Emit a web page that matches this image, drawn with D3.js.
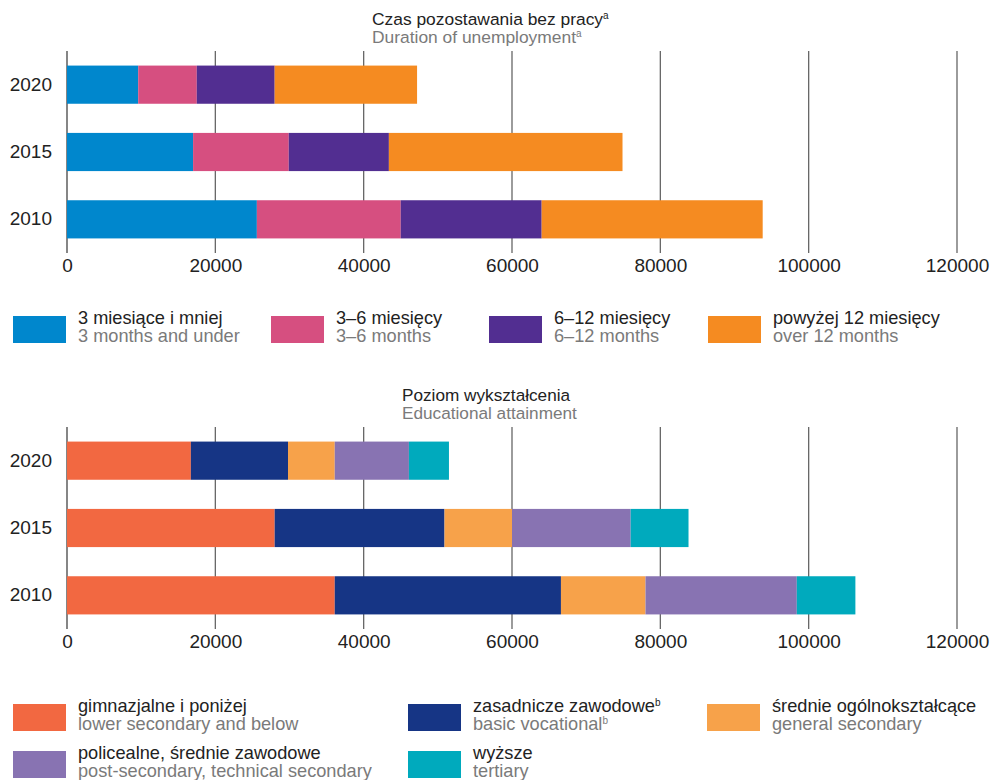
<!DOCTYPE html>
<html lang="pl">
<head>
<meta charset="UTF-8">
<script src="https://cdn.jsdelivr.net/npm/d3@7"></script>
<title>Bezrobotni</title>
<style>
  body { margin: 0; background: #fff; }
  svg text { font-family: "Liberation Sans", Arial, sans-serif; }
</style>
</head>
<body>
<div id="wykres"></div>
<script>
// lata
var lata = ['2020', '2015', '2010']

// czas pozostawania bez pracy
var do3mies = [9600, 17000, 25600]
var od3do6 = [7900, 12900, 19400]
var od6do12 = [10500, 13500, 19000]
var ponad12 = [19200, 31500, 29800]

// poziom wykształcenia
var gimnazjalne = [16700, 28000, 36100]
var zasadnicze = [13100, 22900, 30500]
var ogolnoksztalcace = [6300, 9100, 11400]
var policealne = [10000, 16000, 20400]
var wyzsze = [5400, 7800, 7900]

var ticksX = [0, 20000, 40000, 60000, 80000, 100000, 120000]

var svg = d3.select('#wykres').append('svg')
  .attr('width', 991)
  .attr('height', 780)

var x = d3.scaleLinear().domain([0, 120000]).range([67, 957])

// dwie linie (pl / en) w jednym elemencie text
function dwieLinie(sel, xx, y1, y2, pl, en, sup, size) {
  var t = sel.append('text').style('font-size', size)
  t.append('tspan').attr('x', xx).attr('y', y1).attr('fill', '#222').text(pl)
  if (sup) t.append('tspan').attr('dy', -6).attr('fill', '#222').style('font-size', '10px').text(sup)
  t.append('tspan').attr('x', xx).attr('y', y2).attr('fill', '#7a7a7a').text(en)
  if (sup) t.append('tspan').attr('dy', -6).attr('fill', '#7a7a7a').style('font-size', '10px').text(sup)
  return t
}

function panel(cfg) {
  var g = svg.append('g').attr('transform', 'translate(0,' + cfg.top + ')')

  // tytuly
  dwieLinie(g, cfg.titleX, -26, -8, cfg.tytulPl, cfg.tytulEn, cfg.sup, cfg.titleSize)

  var y = d3.scaleBand().domain(lata).range([0, 202]).paddingInner(0.433).paddingOuter(0.2165)

  // linie siatki
  g.selectAll('line.grid').data(ticksX).enter().append('line')
    .attr('class', 'grid')
    .attr('x1', d => x(d)).attr('x2', d => x(d))
    .attr('y1', 0).attr('y2', 202)
    .attr('stroke', (d) => d === 0 ? '#444' : '#666')
    .attr('stroke-width', 1.3)

  var dane = lata.map((rok, i) => {
    var o = { rok: rok }
    cfg.serie.forEach((s, k) => { o['s' + k] = s[i] })
    return o
  })
  var klucze = cfg.serie.map((s, k) => 's' + k)
  var stos = d3.stack().keys(klucze)(dane)

  g.selectAll('g.seria').data(stos).enter().append('g')
    .attr('fill', (d, k) => cfg.kolory[k])
    .selectAll('rect').data(d => d).enter().append('rect')
    .attr('x', d => x(d[0]))
    .attr('width', d => x(d[1]) - x(d[0]))
    .attr('y', d => y(d.data.rok))
    .attr('height', y.bandwidth())

  // osie
  var osY = d3.axisLeft(y).tickSize(0).tickPadding(15)
  g.append('g').attr('transform', 'translate(67,0)').call(osY)
    .call(a => a.select('.domain').remove())
    .selectAll('text').attr('fill', '#222').style('font-size', '19px')

  var osX = d3.axisBottom(x).tickValues(ticksX).tickSize(0).tickPadding(6).tickFormat(d3.format('d'))
  g.append('g').attr('transform', 'translate(0,202)').call(osX)
    .call(a => a.select('.domain').remove())
    .selectAll('text').attr('fill', '#222').style('font-size', '19px')

  // legenda
  var leg = svg.append('g')
  cfg.legenda.forEach((l, k) => {
    var lg = leg.append('g').attr('transform', 'translate(' + l[2] + ',' + l[3] + ')')
    lg.append('rect').attr('x', 0).attr('y', 0).attr('width', 53).attr('height', 27).attr('fill', cfg.kolory[k])
    dwieLinie(lg, 65, 8, 26, l[0], l[1], l[4], '18.2px')
  })
}

panel({
  top: 51,
  titleX: 372,
  titleSize: '17.4px',
  tytulPl: 'Czas pozostawania bez pracy',
  tytulEn: 'Duration of unemployment', sup: 'a',
  serie: [do3mies, od3do6, od6do12, ponad12],
  kolory: ['#0087cd', '#d64f80', '#522e91', '#f58b21'],
  legenda: [
    ['3 miesiące i mniej', '3 months and under', 13, 316],
    ['3–6 miesięcy', '3–6 months', 271, 316],
    ['6–12 miesięcy', '6–12 months', 489, 316],
    ['powyżej 12 miesięcy', 'over 12 months', 708, 316]
  ]
})

panel({
  top: 427,
  titleX: 402,
  titleSize: '17.2px',
  tytulPl: 'Poziom wykształcenia',
  tytulEn: 'Educational attainment',
  serie: [gimnazjalne, zasadnicze, ogolnoksztalcace, policealne, wyzsze],
  kolory: ['#f26841', '#163585', '#f7a24a', '#8873b2', '#00aabd'],
  legenda: [
    ['gimnazjalne i poniżej', 'lower secondary and below', 13, 704],
    ['zasadnicze zawodowe', 'basic vocational', 408, 704, 'b'],
    ['średnie ogólnokształcące', 'general secondary', 707, 704],
    ['policealne, średnie zawodowe', 'post-secondary, technical secondary', 13, 751],
    ['wyższe', 'tertiary', 408, 751]
  ]
})
</script>
</body>
</html>
